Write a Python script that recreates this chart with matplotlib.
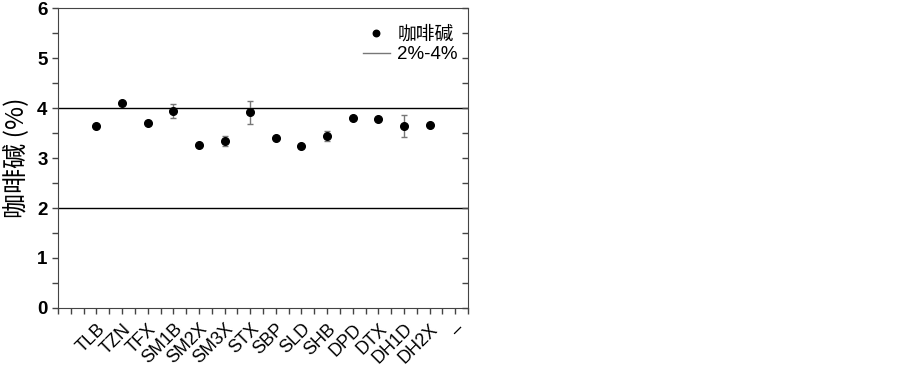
import matplotlib.pyplot as plt
from matplotlib.ticker import MultipleLocator

plt.rcParams['font.family'] = ['Liberation Sans', 'Noto Sans CJK SC', 'DejaVu Sans']

labels = ['TLB', 'TZN', 'TFX', 'SM1B', 'SM2X', 'SM3X', 'STX', 'SBP', 'SLD',
          'SHB', 'DPD', 'DTX', 'DH1D', 'DH2X']
caffeine = [3.64, 4.11, 3.70, 3.95, 3.27, 3.35, 3.92, 3.41, 3.25,
            3.45, 3.80, 3.78, 3.64, 3.66]
errors = [0, 0, 0, 0.14, 0, 0.10, 0.23, 0, 0, 0.10, 0, 0, 0.22, 0]
range_lo = 2
range_hi = 4

fig = plt.figure(figsize=(9.03, 3.68), dpi=100)
ax = fig.add_axes([58 / 903, 60 / 368, 410 / 903, 300 / 368])

x = list(range(1, len(labels) + 1))
ax.errorbar(x, caffeine, yerr=errors, fmt='none', ecolor='#777777',
            elinewidth=1, capsize=2.5, capthick=1, zorder=2)
ax.plot(x, caffeine, 'o', color='black', markersize=5.5, label='咖啡碱', zorder=3)
ax.axhline(range_hi, color='black', lw=1, zorder=1, label='2%-4%')
ax.axhline(range_lo, color='black', lw=1, zorder=1)

ax.set_xlim(-0.5, 15.5)
ax.set_ylim(0, 6)
ax.set_xticks(range(0, 16))
ax.set_xticklabels([''] + labels + ['–'], rotation=45, ha='right',
                   rotation_mode='anchor', fontsize=13)
ax.xaxis.set_minor_locator(MultipleLocator(0.5))
ax.yaxis.set_major_locator(MultipleLocator(1))
ax.yaxis.set_minor_locator(MultipleLocator(0.5))
for t in ax.get_yticklabels():
    t.set_fontweight('bold')
    t.set_fontsize(13.5)

ax.tick_params(axis='both', which='both', direction='out', color='#444444',
               length=4, width=1)
ax.tick_params(axis='x', which='major', pad=5)
ax.tick_params(axis='y', which='both', right=True, labelright=False)
for s in ax.spines.values():
    s.set_color('#444444')

ax.set_ylabel('咖啡碱 (%)', fontsize=18, labelpad=6,
              family=['Noto Sans CJK SC', 'DejaVu Sans'], fontweight='light')

leg = ax.legend(loc='upper right', bbox_to_anchor=(1.0, 0.975), frameon=False,
                fontsize=13.5, handlelength=1.45, borderaxespad=0.15,
                labelspacing=0.15, markerscale=0.85, handletextpad=0.4)
leg.get_lines()[1].set_color('#777777')

# right-side ticks point inward
for tick in ax.yaxis.get_major_ticks() + ax.yaxis.get_minor_ticks():
    tick.tick2line.set_marker(0)

fig.savefig('out.png', dpi=100)
